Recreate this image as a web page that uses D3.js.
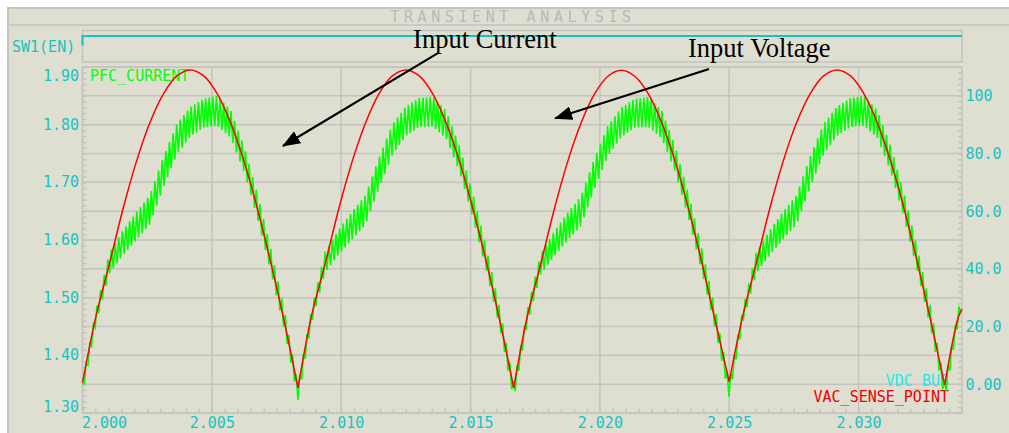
<!DOCTYPE html>
<html>
<head>
<meta charset="utf-8">
<title>Transient Analysis</title>
<script src="https://cdn.jsdelivr.net/npm/d3@7/dist/d3.min.js"></script>
<style>
    body { margin: 0; background: #ffffff; }
    svg { display: block; }
</style>
</head>
<body>
<svg width="1009" height="433"></svg>
<script>
// time in ms after t = 2.000 s, 16 samples per mains half cycle
var timeMs = [
    0, 0.52, 1.04, 1.56, 2.08, 2.60, 3.13, 3.65, 4.17, 4.69, 5.21, 5.73, 6.25, 6.77, 7.29, 7.81,
    8.33, 8.85, 9.38, 9.90, 10.42, 10.94, 11.46, 11.98, 12.50, 13.02, 13.54, 14.06, 14.58, 15.10, 15.63, 16.15,
    16.67, 17.19, 17.71, 18.23, 18.75, 19.27, 19.79, 20.31, 20.83, 21.35, 21.88, 22.40, 22.92, 23.44, 23.96, 24.48,
    25.00, 25.52, 26.04, 26.56, 27.08, 27.60, 28.13, 28.65, 29.17, 29.69, 30.21, 30.73, 31.25, 31.77, 32.29, 32.81,
    33.33, 33.85, 34.00
];

// VAC_SENSE_POINT (right axis)
var vacSense = [
    0.5, 23.5, 41.7, 60.6, 77.1, 90.6, 100.7, 106.9, 109.0, 106.9, 100.7, 90.6, 77.1, 60.6, 41.7, 21.3,
    -1.3, 23.5, 41.7, 60.6, 77.1, 90.6, 100.7, 106.9, 109.0, 106.9, 100.7, 90.6, 77.1, 60.6, 41.7, 21.3,
    -1.3, 23.3, 41.5, 60.4, 77.0, 90.5, 100.6, 106.8, 108.9, 106.8, 100.6, 90.5, 77.0, 60.4, 41.5, 21.2,
    0.9, 23.5, 41.7, 60.6, 77.1, 90.6, 100.7, 106.9, 109.0, 106.9, 100.7, 90.6, 77.1, 60.6, 41.7, 21.3,
    -0.3, 23.0, 26.0
];

// PFC_CURRENT (left axis), mean of the switching ripple
var pfcCurrent = [
    1.343, 1.467, 1.560, 1.595, 1.624, 1.652, 1.718, 1.775, 1.805, 1.820, 1.824, 1.801, 1.740, 1.658, 1.563, 1.460,
    1.336, 1.467, 1.562, 1.596, 1.625, 1.652, 1.716, 1.774, 1.806, 1.821, 1.823, 1.800, 1.740, 1.658, 1.563, 1.460,
    1.337, 1.466, 1.558, 1.593, 1.623, 1.650, 1.715, 1.772, 1.804, 1.820, 1.822, 1.800, 1.739, 1.657, 1.562, 1.459,
    1.340, 1.467, 1.560, 1.595, 1.625, 1.652, 1.718, 1.775, 1.806, 1.821, 1.824, 1.801, 1.740, 1.658, 1.563, 1.460,
    1.337, 1.467, 1.495
];

// peak-to-peak switching ripple on PFC_CURRENT
var pfcRipple = [
    0.018, 0.024, 0.036, 0.043, 0.048, 0.051, 0.053, 0.053, 0.051, 0.050, 0.052, 0.048, 0.044, 0.042, 0.040, 0.035,
    0.028, 0.024, 0.036, 0.043, 0.048, 0.051, 0.053, 0.053, 0.051, 0.050, 0.052, 0.048, 0.044, 0.042, 0.040, 0.035,
    0.028, 0.024, 0.036, 0.043, 0.048, 0.051, 0.053, 0.053, 0.051, 0.050, 0.052, 0.048, 0.044, 0.042, 0.040, 0.035,
    0.028, 0.024, 0.036, 0.043, 0.048, 0.051, 0.053, 0.053, 0.051, 0.050, 0.052, 0.048, 0.044, 0.042, 0.040, 0.035,
    0.028, 0.024, 0.028
];
var rippleHalfMs = 0.07; // half a switching period (~3.6 px per spike)

// SW1(EN) digital trace
var swTime = [0, 0, 34];
var swLevel = [0.55, 1, 1];

var xTicks = [0, 5, 10, 15, 20, 25, 30];
var xTickLabels = ["2.000", "2.005", "2.010", "2.015", "2.020", "2.025", "2.030"];
var leftTicks = [1.3, 1.4, 1.5, 1.6, 1.7, 1.8, 1.9];
var leftTickLabels = ["1.30", "1.40", "1.50", "1.60", "1.70", "1.80", "1.90"];
var rightTicks = [0, 20, 40, 60, 80, 100];
var rightTickLabels = ["0.00", "20.0", "40.0", "60.0", "80.0", "100"];

var notes = [
    { text: "Input Current", t: 12.78, a: 1.933, fromT: 13.74, fromA: 1.924, toT: 7.75, toA: 1.763 },
    { text: "Input Voltage", t: 23.41, a: 1.917, fromT: 24.22, fromA: 1.8965, toT: 18.27, toA: 1.811 }
];

var mono = "'DejaVu Sans Mono', monospace";
var gridColor = "#c3c3c0";
var labelColor = "#14c3c3";

var svg = d3.select("svg");
var plotLeft = 82.5, plotRight = 962, plotTop = 67, plotBottom = 413;

var x = d3.scaleLinear().domain([0, 34]).range([plotLeft, plotRight]);
var yLeft = d3.scaleLinear().domain([1.30, 1.90]).range([plotBottom, plotTop]);
var yRight = d3.scaleLinear().domain([-10, 110]).range([plotBottom, plotTop]);
var ySw = d3.scaleLinear().domain([0, 1]).range([57, 36]);

// Panel
svg.append("rect")
    .attr("x", 8).attr("y", 8)
    .attr("width", 1010).attr("height", 430)
    .attr("fill", "#dfdfd1")
    .attr("stroke", gridColor)
    .attr("stroke-width", 2);

svg.append("line")
    .attr("x1", 8).attr("x2", 1009)
    .attr("y1", 25).attr("y2", 25)
    .attr("stroke", gridColor).attr("stroke-width", 1.5);

svg.append("text")
    .attr("x", 513).attr("y", 17)
    .attr("dy", "0.36em")
    .attr("text-anchor", "middle")
    .attr("font-family", mono)
    .attr("font-size", 15)
    .attr("letter-spacing", 4.6)
    .attr("fill", "#b9b9b6")
    .text("TRANSIENT ANALYSIS");

// Strip box and plot box
svg.append("rect")
    .attr("x", plotLeft).attr("y", 30.5)
    .attr("width", plotRight - plotLeft).attr("height", 31.5)
    .attr("fill", "none")
    .attr("stroke", gridColor).attr("stroke-width", 1.5);

svg.append("rect")
    .attr("x", plotLeft).attr("y", plotTop)
    .attr("width", plotRight - plotLeft).attr("height", plotBottom - plotTop)
    .attr("fill", "none")
    .attr("stroke", gridColor).attr("stroke-width", 1.5);

// Grid
var grid = svg.append("g").attr("stroke", gridColor).attr("stroke-width", 1.5);

grid.selectAll("line.h1")
    .data(leftTicks)
    .enter().append("line")
    .attr("x1", plotLeft).attr("x2", plotRight)
    .attr("y1", d => yLeft(d)).attr("y2", d => yLeft(d));

grid.selectAll("line.h2")
    .data(rightTicks)
    .enter().append("line")
    .attr("x1", plotLeft).attr("x2", plotRight)
    .attr("y1", d => yRight(d)).attr("y2", d => yRight(d));

grid.selectAll("line.v")
    .data(xTicks)
    .enter().append("line")
    .attr("x1", d => x(d)).attr("x2", d => x(d))
    .attr("y1", plotTop).attr("y2", plotBottom);

// Minor ticks
function styleTicks(g) {
    g.select(".domain").remove();
    g.selectAll(".tick line").attr("stroke", gridColor).attr("stroke-width", 1.5);
}

svg.append("g")
    .attr("transform", "translate(0," + plotBottom + ")")
    .call(d3.axisBottom(x).tickValues(d3.range(0, 34.01, 0.5)).tickSize(-4).tickFormat(""))
    .call(styleTicks);

svg.append("g")
    .attr("transform", "translate(" + plotLeft + ",0)")
    .call(d3.axisRight(yLeft).tickValues(d3.range(1.30, 1.9001, 0.01)).tickSize(4).tickFormat(""))
    .call(styleTicks);

svg.append("g")
    .attr("transform", "translate(" + plotRight + ",0)")
    .call(d3.axisLeft(yRight).tickValues(d3.range(-10, 110.01, 2)).tickSize(4).tickFormat(""))
    .call(styleTicks);

// Tick labels
function styleLabels(g) {
    g.select(".domain").remove();
    g.selectAll(".tick line").remove();
    g.attr("font-family", mono).attr("font-size", 15);
    g.selectAll("text").attr("fill", labelColor);
}

var xAxis = svg.append("g")
    .attr("transform", "translate(0," + plotBottom + ")")
    .call(d3.axisBottom(x).tickValues(xTicks).tickFormat((d, i) => xTickLabels[i]))
    .call(styleLabels);
xAxis.selectAll("text").attr("y", 14.5).attr("dy", 0);
xAxis.selectAll("text").filter(d => d === xTicks[0]).attr("text-anchor", "start").attr("x", -1);

var leftAxis = svg.append("g")
    .attr("transform", "translate(" + plotLeft + ",0)")
    .call(d3.axisLeft(yLeft).tickValues(leftTicks).tickFormat((d, i) => leftTickLabels[i]))
    .call(styleLabels);
leftAxis.selectAll(".tick")
    .attr("transform", d => "translate(0," + Math.max(76, Math.min(407, yLeft(d))) + ")");
leftAxis.selectAll("text").attr("x", -3.5).attr("dy", "0.34em");

var rightAxis = svg.append("g")
    .attr("transform", "translate(" + plotRight + ",0)")
    .call(d3.axisRight(yRight).tickValues(rightTicks).tickFormat((d, i) => rightTickLabels[i]))
    .call(styleLabels);
rightAxis.selectAll("text").attr("x", 3.5).attr("dy", "0.34em");

// Trace names
svg.append("text")
    .attr("x", 12).attr("y", 47).attr("dy", "0.34em")
    .attr("font-family", mono).attr("font-size", 15)
    .attr("fill", labelColor)
    .text("SW1(EN)");

svg.append("text")
    .attr("x", 90).attr("y", 76).attr("dy", "0.34em")
    .attr("font-family", mono).attr("font-size", 15)
    .attr("fill", "#00ff00")
    .text("PFC_CURRENT");

svg.append("text")
    .attr("x", 949).attr("y", 381).attr("dy", "0.34em")
    .attr("text-anchor", "end")
    .attr("font-family", mono).attr("font-size", 15)
    .attr("fill", "#1ee8e8")
    .text("VDC_BUS");

svg.append("text")
    .attr("x", 949).attr("y", 397).attr("dy", "0.34em")
    .attr("text-anchor", "end")
    .attr("font-family", mono).attr("font-size", 15)
    .attr("fill", "#f00000")
    .text("VAC_SENSE_POINT");

// SW1(EN) trace
svg.append("path")
    .attr("d", d3.line().x(d => x(d[0])).y(d => ySw(d[1]))(d3.zip(swTime, swLevel)))
    .attr("fill", "none")
    .attr("stroke", "#18c0c0")
    .attr("stroke-width", 2);

// PFC_CURRENT with its switching ripple
var centre = d3.scaleLinear().domain(timeMs).range(pfcCurrent);
var ripple = d3.scaleLinear().domain(timeMs).range(pfcRipple);
var rippleTimes = d3.range(0, 34.0001, rippleHalfMs);
var zigzag = rippleTimes.map((t, i) => [t, centre(t) + (i % 2 ? -0.5 : 0.5) * ripple(t)]);

svg.append("path")
    .attr("d", d3.line().x(d => x(d[0])).y(d => yLeft(d[1]))(zigzag))
    .attr("fill", "none")
    .attr("stroke", "#00ff00")
    .attr("stroke-width", 1.6)
    .attr("stroke-linejoin", "miter");

// VAC_SENSE_POINT, one smooth arc per half cycle
var cusps = timeMs.map((t, i) => i).filter(i =>
    i === 0 || i === timeMs.length - 1 ||
    (vacSense[i] < vacSense[i - 1] && vacSense[i] < vacSense[i + 1]));

var redLine = d3.line()
    .x(d => x(d[0]))
    .y(d => yRight(d[1]))
    .curve(d3.curveCatmullRom);

var vacPoints = d3.zip(timeMs, vacSense);
d3.pairs(cusps).forEach(p => {
    svg.append("path")
        .attr("d", redLine(vacPoints.slice(p[0], p[1] + 1)))
        .attr("fill", "none")
        .attr("stroke", "#ff0000")
        .attr("stroke-width", 1.5);
});

// Annotations
svg.append("defs").append("marker")
    .attr("id", "head")
    .attr("viewBox", "0 0 18 14")
    .attr("refX", 17).attr("refY", 7)
    .attr("markerWidth", 18).attr("markerHeight", 14)
    .attr("markerUnits", "userSpaceOnUse")
    .attr("orient", "auto")
    .append("path")
    .attr("d", "M0,0L18,7L0,14Z")
    .attr("fill", "#000");

notes.forEach(n => {
    svg.append("text")
        .attr("x", x(n.t)).attr("y", yLeft(n.a))
        .attr("font-family", "'Liberation Serif', 'Times New Roman', serif")
        .attr("font-size", 26.5)
        .attr("fill", "#000")
        .text(n.text);

    svg.append("line")
        .attr("x1", x(n.fromT)).attr("y1", yLeft(n.fromA))
        .attr("x2", x(n.toT)).attr("y2", yLeft(n.toA))
        .attr("stroke", "#000")
        .attr("stroke-width", 2.2)
        .attr("marker-end", "url(#head)");
});
</script>
</body>
</html>
